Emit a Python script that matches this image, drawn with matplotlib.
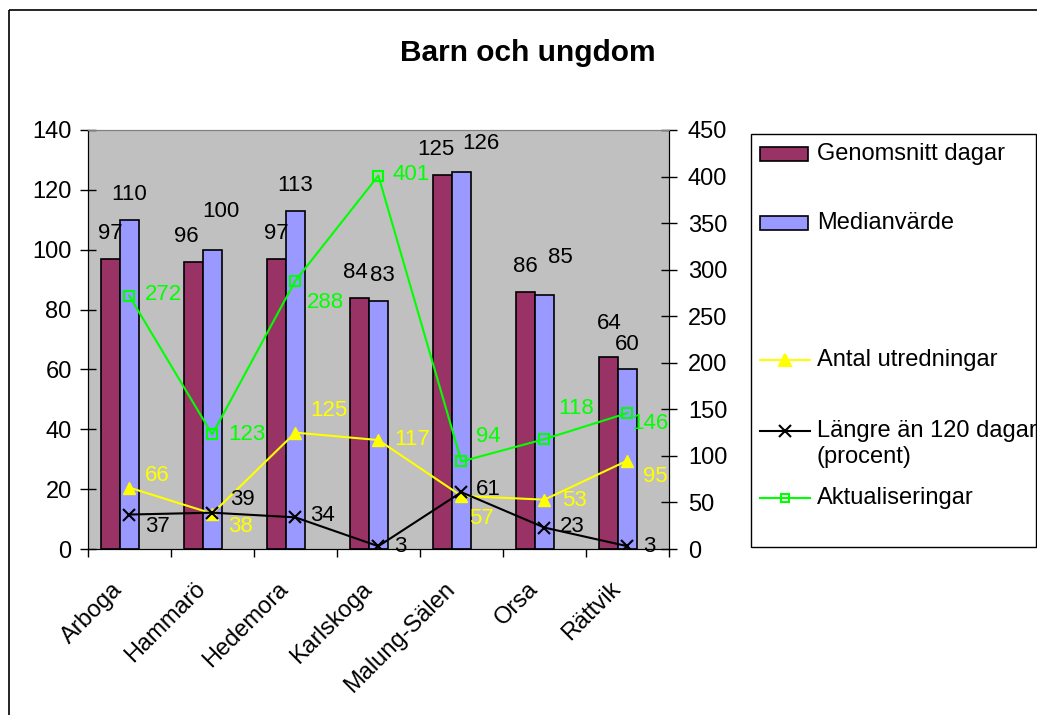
import numpy as np
import matplotlib.pyplot as plt
import matplotlib.transforms as mtransforms
from matplotlib.patches import Rectangle
from matplotlib.lines import Line2D

plt.rcParams['font.family'] = ['Liberation Sans', 'DejaVu Sans']

# --- data ---
kommuner = ["Arboga", "Hammarö", "Hedemora", "Karlskoga", "Malung-Sälen", "Orsa", "Rättvik"]
genomsnitt = [97, 96, 97, 84, 125, 86, 64]
median = [110, 100, 113, 83, 126, 85, 60]
antal = [66, 38, 125, 117, 57, 53, 95]
langre = [37, 39, 34, 3, 61, 23, 3]
aktual = [272, 123, 288, 401, 94, 118, 146]

# label nudges in pixels (Excel pushed overlapping labels around)
nudge_gen = [(0, 0), (-7, 0), (0, 0), (-4, 0), (-7, 0), (0, 0), (0, 9)]
nudge_med = [(0, 0), (9, 13), (0, 0), (4, 0), (19, 3), (16, 12), (0, 0)]
off_antal = [(28, 12), (28, -13), (34, 22), (34, 1), (20, -23), (30, -1), (28, -16)]
off_langre = [(28, -12), (30, 13), (27, 2), (22, 0), (27, 3), (28, 1), (22, 0)]
off_aktual = [(34, 1), (35, 0), (30, -22), (33, 1), (27, 25), (32, 31), (22, -10)]

MAROON = "#993366"
LILAC = "#9999FF"
YELLOW = "#FFFF00"
GREEN = "#00FF00"
FS = 17
W, H = 1037, 715

fig = plt.figure(figsize=(W / 100, H / 100), dpi=100)
ax = fig.add_axes([87.7 / W, 1 - 549 / H, (669 - 87.7) / W, (549 - 130) / H])
ax.set_facecolor("#C0C0C0")

x = np.arange(len(kommuner))
bw = 0.225
ax.bar(x - bw, genomsnitt, bw, color=MAROON, edgecolor="black", linewidth=1.2)
ax.bar(x, median, bw, color=LILAC, edgecolor="black", linewidth=1.2)

for i in range(len(x)):
    dx, dy = nudge_gen[i]
    ax.annotate(str(genomsnitt[i]), (x[i] - bw, genomsnitt[i]), xytext=(dx, 25 + dy),
                textcoords="offset pixels", ha="center", va="center", fontsize=16)
    dx, dy = nudge_med[i]
    ax.annotate(str(median[i]), (x[i], median[i]), xytext=(dx, 25 + dy),
                textcoords="offset pixels", ha="center", va="center", fontsize=16)

ax.set_xlim(-0.5, len(x) - 0.5)
ax.set_ylim(0, 140)
ax.set_yticks(range(0, 141, 20))
ax.set_xticks(x)
ax.set_xticklabels(kommuner, rotation=45, ha="right", va="center", rotation_mode="anchor")
ax.set_xticks(np.arange(-0.5, len(x)), minor=True)
ax.tick_params(axis="x", which="major", length=0, pad=28, labelsize=FS)
ax.tick_params(axis="x", which="minor", length=6, width=1, direction="out")
ax.tick_params(axis="y", length=11, width=1, direction="inout", pad=6, labelsize=FS)
ax.spines["top"].set_color("#808080")
shift = mtransforms.ScaledTranslation(-0.1, 0.02, fig.dpi_scale_trans)
for lbl in ax.get_xticklabels():
    lbl.set_transform(lbl.get_transform() + shift)

ax2 = ax.twinx()
ax2.set_ylim(0, 450)
ax2.set_yticks(range(0, 451, 50))
ax2.tick_params(axis="y", length=11, width=1, direction="inout", pad=8, labelsize=FS)
ax2.spines["top"].set_color("#808080")

ax2.plot(x, antal, color=YELLOW, lw=1.5, marker="^", ms=9, mfc=YELLOW, mec=YELLOW)
ax2.plot(x, langre, color="black", lw=1.5, marker="x", ms=9, mew=1.5)
ax2.plot(x, aktual, color=GREEN, lw=1.5, marker="s", ms=7, mfc="none", mec=GREEN, mew=1.5)

for vals, offs, col in [(antal, off_antal, YELLOW), (langre, off_langre, "black"),
                        (aktual, off_aktual, GREEN)]:
    for i, v in enumerate(vals):
        ax2.annotate(str(v), (x[i], v), xytext=offs[i], textcoords="offset pixels",
                     ha="center", va="center", fontsize=16, color=col)

# overlay in pixel units for border, title and legend
ov = fig.add_axes([0, 0, 1, 1], zorder=-1)
ov.set_xlim(0, W)
ov.set_ylim(H, 0)
ov.axis("off")
ov.add_patch(Rectangle((9, 10), W, H, fill=False, edgecolor="black", lw=1.2))
ov.text(528, 53, "Barn och ungdom", ha="center", va="center", fontsize=21.5, fontweight="bold")

ov.add_patch(Rectangle((751, 134), 285, 413, fill=False, edgecolor="black", lw=1))
leg = [("bar", MAROON, None, 154, "Genomsnitt dagar"),
       ("bar", LILAC, None, 223, "Medianvärde"),
       ("line", YELLOW, "^", 360, "Antal utredningar"),
       ("line", "black", "x", 431, "Längre än 120 dagar"),
       ("line", GREEN, "s", 498, "Aktualiseringar")]
for kind, col, mk, yy, lab in leg:
    if kind == "bar":
        ov.add_patch(Rectangle((760, yy - 7), 48, 14, facecolor=col, edgecolor="black", lw=1.2))
    else:
        mfc = "none" if mk == "s" else col
        ms = 6 if mk == "s" else 8
        ov.add_line(Line2D([760, 785, 810], [yy, yy, yy], color=col, lw=1.5, marker=mk,
                           markevery=[1], ms=ms, mfc=mfc, mec=col, mew=1.5))
    ov.text(817, yy, lab, ha="left", va="center", fontsize=FS)
ov.text(817, 457, "(procent)", ha="left", va="center", fontsize=FS)

fig.savefig("out.png", dpi=100)
